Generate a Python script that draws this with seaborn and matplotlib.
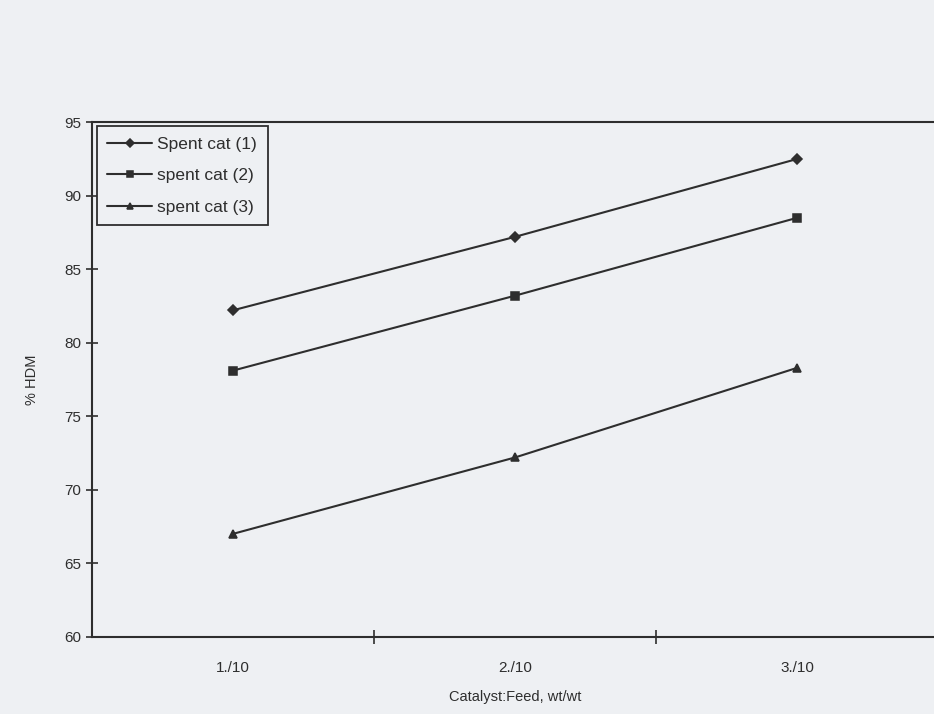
import matplotlib
matplotlib.use("Agg")
import matplotlib.pyplot as plt
import seaborn as sns
import pandas as pd
from matplotlib.ticker import FixedLocator

# data
ratios = ["1./10", "2./10", "3./10"]
series_names = ["Spent cat (1)", "spent cat (2)", "spent cat (3)"]
spent_cat_1 = [82.2, 87.2, 92.5]
spent_cat_2 = [78.1, 83.2, 88.5]
spent_cat_3 = [67.0, 72.2, 78.3]
y_ticks = [60, 65, 70, 75, 80, 85, 90, 95]

df = pd.DataFrame({
    "ratio": ratios * 3,
    "hdm": spent_cat_1 + spent_cat_2 + spent_cat_3,
    "series": [s for s in series_names for _ in ratios],
})

sns.set_style("white")
plt.rcParams["font.family"] = ["Liberation Sans", "DejaVu Sans"]

bg = "#eef0f3"
ink = "#2e2e2e"

fig = plt.figure(figsize=(9.34, 7.14), dpi=100, facecolor=bg)
ax = fig.add_axes([0.098, 0.108, 0.907, 0.721])
ax.set_facecolor(bg)

sns.pointplot(
    data=df, x="ratio", y="hdm", hue="series",
    palette=[ink] * 3, markers=["D", "s", "^"], linestyles="-",
    markersize=5.5, linewidth=1.5, ax=ax,
)

ax.set_xlim(-0.5, 2.5)
ax.set_ylim(60, 95)
ax.set_yticks(y_ticks)
ax.set_xticks([0, 1, 2])
ax.set_xticklabels(ratios)
ax.xaxis.set_minor_locator(FixedLocator([0.5, 1.5]))
ax.tick_params(axis="x", which="major", bottom=False, labelsize=11,
               colors=ink, pad=14)
ax.tick_params(axis="x", which="minor", bottom=True, direction="inout",
               length=10, width=1.2, color=ink)
ax.tick_params(axis="y", left=True, direction="inout", length=9, width=1.2,
               labelsize=11, colors=ink, pad=3)

for side in ["left", "top", "bottom"]:
    ax.spines[side].set_visible(True)
    ax.spines[side].set_color(ink)
    ax.spines[side].set_linewidth(1.5)
ax.spines["right"].set_visible(False)

ax.set_xlabel("Catalyst:Feed, wt/wt", fontsize=10.5, color=ink, labelpad=11)
ax.set_ylabel("% HDM", fontsize=10.5, color=ink, labelpad=18)

leg = ax.legend(loc="upper left", bbox_to_anchor=(0.006, 0.992), fontsize=12.5,
                frameon=True, fancybox=False, framealpha=1, facecolor=bg,
                edgecolor=ink, handlelength=2.6, borderpad=0.6,
                labelspacing=0.95, handletextpad=0.3, borderaxespad=0,
                markerscale=0.75)
leg.get_frame().set_linewidth(1.3)
for t in leg.get_texts():
    t.set_color(ink)

fig.savefig("out.png", dpi=100, facecolor=bg)
